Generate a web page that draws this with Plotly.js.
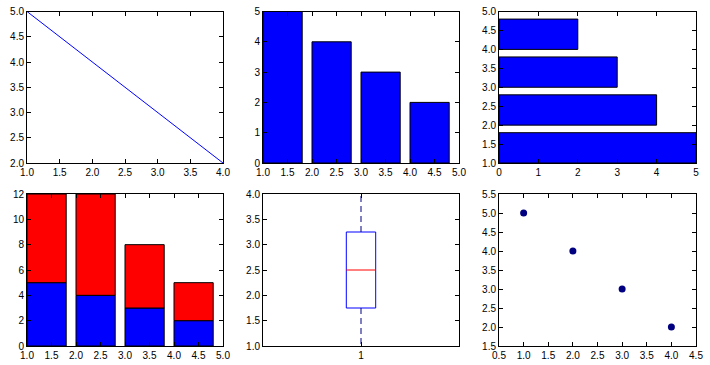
<!DOCTYPE html>
<html>
<head>
<meta charset="utf-8">
<script src="https://cdn.plot.ly/plotly-3.0.1.min.js"></script>
<style>html,body{margin:0;padding:0;background:#fff;}#chart{width:710px;height:365px;}</style>
</head>
<body>
<div id="chart"></div>
<script>
// ---- data ----
var lineX = [1, 2, 3, 4];
var lineY = [5, 4, 3, 2];
var barPos = [1, 2, 3, 4];
var barVals = [5, 4, 3, 2];
var hbarPos = [1, 2, 3, 4];
var hbarVals = [5, 4, 3, 2];
var stackPos = [1, 2, 3, 4];
var stackBottom = [5, 4, 3, 2];
var stackTop = [7, 8, 5, 3];
var boxData = [1, 2, 3, 4];
var scatterX = [1, 2, 3, 4];
var scatterY = [5, 4, 3, 2];

// ---- helpers ----
function quantile(arr, p) {
  var s = arr.slice().sort(function(a,b){return a-b;});
  var idx = (s.length - 1) * p;
  var lo = Math.floor(idx), hi = Math.ceil(idx);
  return s[lo] + (s[hi] - s[lo]) * (idx - lo);
}
var q1 = quantile(boxData, 0.25), med = quantile(boxData, 0.5), q3 = quantile(boxData, 0.75);
var bmin = Math.min.apply(null, boxData), bmax = Math.max.apply(null, boxData);
var boxPos = 1, boxW = 0.15;

var BLUE = '#0000ff', RED = '#ff0000';
var edge = {color: '#000', width: 1};

var traces = [
  {type:'scatter', mode:'lines', x:lineX, y:lineY, line:{color:BLUE, width:1}, xaxis:'x', yaxis:'y'},
  {type:'bar', x:barPos, y:barVals, width:0.8, offset:0, marker:{color:BLUE, line:edge}, xaxis:'x2', yaxis:'y2'},
  {type:'bar', orientation:'h', y:hbarPos, x:hbarVals, width:0.8, offset:0, marker:{color:BLUE, line:edge}, xaxis:'x3', yaxis:'y3'},
  {type:'bar', x:stackPos, y:stackBottom, width:0.8, offset:0, marker:{color:BLUE, line:edge}, xaxis:'x4', yaxis:'y4'},
  {type:'bar', x:stackPos, y:stackTop, base:stackBottom, width:0.8, offset:0, marker:{color:RED, line:edge}, xaxis:'x4', yaxis:'y4'},
  // box plot
  {type:'scatter', mode:'lines', x:[boxPos-boxW/2, boxPos+boxW/2, boxPos+boxW/2, boxPos-boxW/2, boxPos-boxW/2], y:[q1,q1,q3,q3,q1], line:{color:BLUE, width:1}, xaxis:'x5', yaxis:'y5'},
  {type:'scatter', mode:'lines', x:[boxPos-boxW/2, boxPos+boxW/2], y:[med, med], line:{color:RED, width:1}, xaxis:'x5', yaxis:'y5'},
  {type:'scatter', mode:'lines', x:[boxPos, boxPos], y:[q3, bmax], line:{color:'#000080', width:1, dash:'6px,4px'}, xaxis:'x5', yaxis:'y5'},
  {type:'scatter', mode:'lines', x:[boxPos, boxPos], y:[q1, bmin], line:{color:'#000080', width:1, dash:'6px,4px'}, xaxis:'x5', yaxis:'y5'},
  {type:'scatter', mode:'markers', x:scatterX, y:scatterY, marker:{color:'#000080', size:7}, xaxis:'x6', yaxis:'y6'}
];

var tickFont = {family:'Liberation Sans, Arial, sans-serif', size:10, color:'#000'};
function ax(domain, range, dtick, fmt, anchor, extra) {
  var a = {domain:domain, range:range, dtick:dtick, tick0:range[0], tickformat:fmt, anchor:anchor,
    showgrid:false, zeroline:false, showline:true, linecolor:'#000', linewidth:1, mirror:'ticks',
    ticks:'inside', ticklen:4, tickcolor:'#000', tickfont:tickFont, fixedrange:true};
  if (extra) for (var k in extra) a[k] = extra[k];
  return a;
}
var cx = [[27/710, 223/710], [263/710, 459/710], [499/710, 696/710]];
var ry = [[(365-163)/365, (365-11.5)/365], [(365-346)/365, (365-194)/365]];

var layout = {
  width:710, height:365, margin:{l:0, r:0, t:0, b:0}, showlegend:false,
  paper_bgcolor:'#fff', plot_bgcolor:'#fff', barmode:'overlay', bargap:0,
  xaxis: ax(cx[0], [1,4], 0.5, '.1f', 'y'),
  yaxis: ax(ry[0], [2,5], 0.5, '.1f', 'x'),
  xaxis2: ax(cx[1], [1,5], 0.5, '.1f', 'y2'),
  yaxis2: ax(ry[0], [0,5], 1, 'd', 'x2'),
  xaxis3: ax(cx[2], [0,5], 1, 'd', 'y3'),
  yaxis3: ax(ry[0], [1,5], 0.5, '.1f', 'x3'),
  xaxis4: ax(cx[0], [1,5], 0.5, '.1f', 'y4'),
  yaxis4: ax(ry[1], [0,12], 2, 'd', 'x4'),
  xaxis5: ax(cx[1], [0.5,1.5], 1, 'd', 'y5', {tickmode:'array', tickvals:[1], ticktext:['1']}),
  yaxis5: ax(ry[1], [1,4], 0.5, '.1f', 'x5'),
  xaxis6: ax(cx[2], [0.5,4.5], 0.5, '.1f', 'y6'),
  yaxis6: ax(ry[1], [1.5,5.5], 0.5, '.1f', 'x6')
};

Plotly.newPlot('chart', traces, layout, {displayModeBar:false, staticPlot:true});
</script>
</body>
</html>
